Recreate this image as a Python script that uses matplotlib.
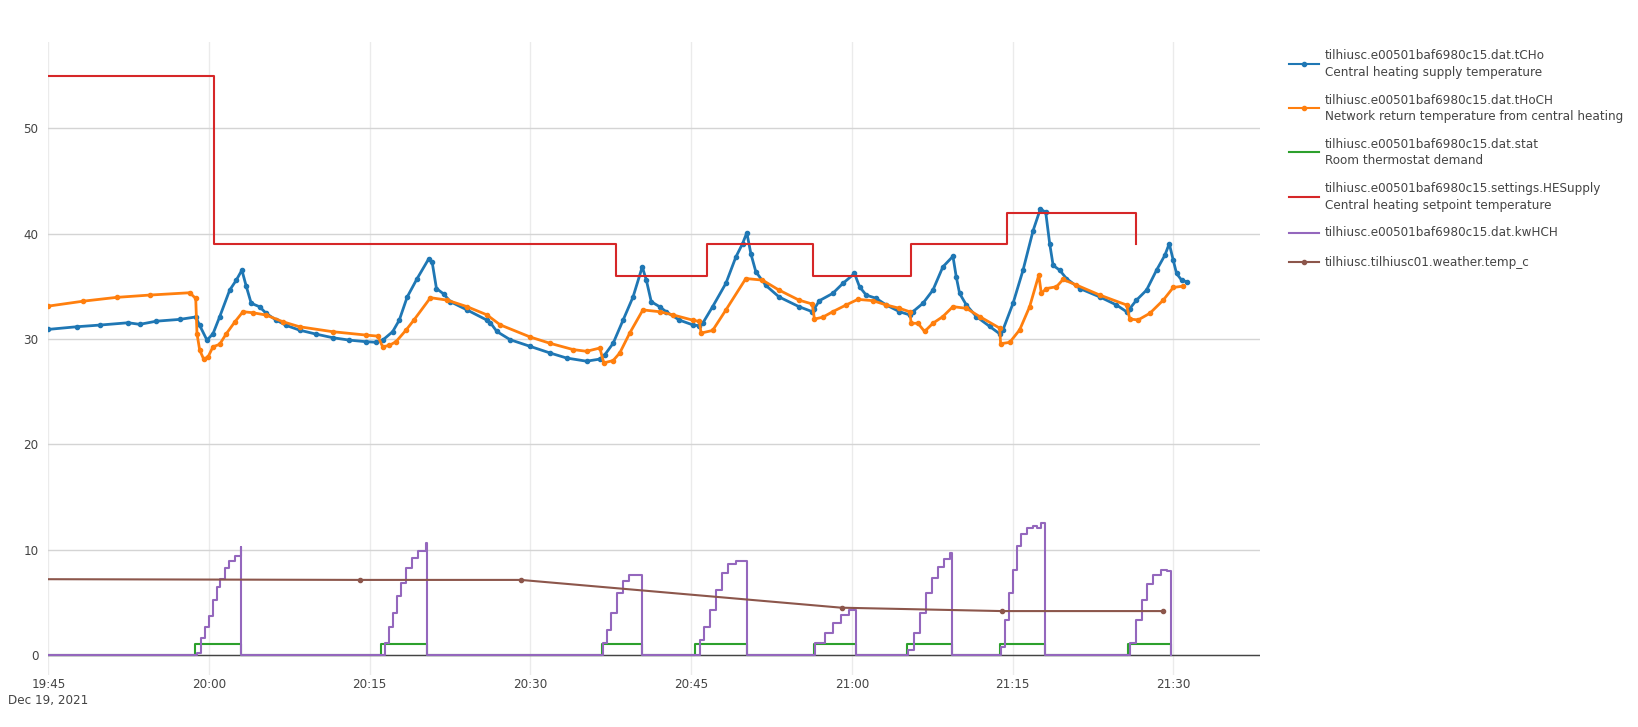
import numpy as np
import pandas as pd
import matplotlib
matplotlib.use("Agg")
import matplotlib.pyplot as plt
from matplotlib.lines import Line2D

plt.rcParams['font.family'] = ['DejaVu Sans']

# times are minutes after 19:45 on Dec 19, 2021
base = pd.Timestamp("2021-12-19 19:45:00")

# tCHo - central heating supply temperature
tcho_min = [0, 2.64, 4.81, 7.45, 8.54, 10.09, 12.27, 13.76, 14.13, 14.81, 15.37, 15.99,
            16.93, 17.55, 18.07, 18.48, 18.94, 19.72, 20.34, 21.27, 22.2, 23.45, 25.0,
            26.55, 28.11, 29.66, 30.59, 31.21, 32.14, 32.76, 33.5, 34.43, 35.52, 35.83,
            36.23, 36.91, 37.53, 39.08, 40.94, 41.25, 41.87, 43.11, 45.0, 46.83, 48.38,
            50.24, 51.48, 51.94, 52.72, 53.65, 54.58, 55.44, 55.82, 56.28, 57.05, 57.67,
            58.91, 60.15, 60.77, 61.08, 62.01, 63.25, 64.18, 64.8, 65.2, 65.58, 66.04,
            66.97, 68.21, 70.07, 71.31, 71.51, 71.98, 73.22, 74.16, 75.25, 75.72, 76.34,
            77.27, 78.21, 79.45, 80.39, 80.7, 81.64, 82.57, 83.5, 84.44, 84.75, 85.06,
            85.69, 86.62, 87.87, 88.8, 89.11, 90.05, 90.98, 91.92, 92.6, 93.1, 93.47,
            93.79, 94.41, 95.03, 96.28, 98.15, 99.7, 100.64, 100.95, 101.57, 102.51,
            103.44, 104.22, 104.63, 105.0, 105.31, 105.78, 106.25]
tcho_val = [30.92, 31.17, 31.33, 31.55, 31.4, 31.7, 31.87, 32.1, 31.3, 29.9, 30.5, 32.1,
            34.65, 35.6, 36.55, 35.0, 33.4, 33.07, 32.44, 31.8, 31.3, 30.85, 30.47,
            30.13, 29.9, 29.75, 29.7, 29.9, 30.7, 31.8, 34.0, 35.75, 37.64, 37.3,
            34.8, 34.28, 33.55, 32.77, 31.8, 31.57, 30.72, 29.94, 29.3, 28.68, 28.2,
            27.9, 28.1, 28.5, 29.6, 31.8, 34.0, 36.86, 35.6, 33.55, 33.08, 32.6,
            31.8, 31.35, 31.26, 31.5, 33.08, 35.3, 37.8, 39.06, 40.1, 38.1, 36.4,
            35.1, 34.0, 33.08, 32.6, 32.9, 33.65, 34.34, 35.28, 36.23, 34.97, 34.18,
            33.87, 33.24, 32.6, 32.3, 32.6, 33.4, 34.65, 36.86, 37.86, 35.9, 34.34,
            33.24, 32.14, 31.2, 30.5, 30.88, 33.4, 36.54, 40.3, 42.36, 42.04, 39.06,
            37.0, 36.54, 35.75, 34.8, 34.0, 33.24, 32.6, 32.9, 33.7, 34.65,
            36.54, 37.96, 39.06, 37.5, 36.23, 35.6, 35.44]

# tHoCH - network return temperature
thoch_min = [0, 3.26, 6.37, 9.47, 13.2, 13.76, 13.88, 14.13, 14.5, 14.91, 15.37, 15.99,
             16.61, 17.39, 18.17, 19.1, 20.34, 21.89, 23.45, 26.55, 29.66, 30.75, 31.21,
             31.83, 32.45, 33.39, 34.12, 35.67, 37.22, 39.08, 40.94, 42.18, 45.0, 46.83,
             49.0, 50.24, 51.48, 51.85, 52.72, 53.34, 54.27, 55.5, 57.05, 58.29, 60.15,
             60.77, 60.93, 62.01, 63.25, 65.11, 66.66, 68.21, 70.07, 71.31, 71.51, 72.29,
             73.22, 74.47, 75.56, 76.96, 78.21, 79.45, 80.39, 80.55, 81.17, 81.79, 82.57,
             83.5, 84.44, 85.69, 86.93, 88.8, 88.89, 89.74, 90.67, 91.6, 92.45, 92.69,
             93.16, 94.1, 94.72, 95.97, 98.15, 100.64, 100.95, 101.73, 102.82, 104.07,
             105.0, 105.93]
thoch_val = [33.13, 33.6, 33.96, 34.18, 34.4, 33.86, 30.5, 28.96, 28.1, 28.3, 29.27, 29.5,
             30.5, 31.6, 32.6, 32.5, 32.28, 31.65, 31.17, 30.7, 30.38, 30.28, 29.27,
             29.4, 29.75, 30.85, 31.8, 33.93, 33.7, 33.08, 32.3, 31.35, 30.19, 29.6,
             29.0, 28.84, 29.15, 27.74, 27.96, 28.68, 30.57, 32.77, 32.6, 32.3, 31.8,
             31.67, 30.57, 30.82, 32.77, 35.75, 35.6, 34.65, 33.7, 33.33, 31.9, 32.08,
             32.6, 33.24, 33.77, 33.65, 33.24, 32.92, 32.6, 31.5, 31.5, 30.72, 31.5,
             32.14, 33.08, 32.92, 32.14, 31.04, 29.56, 29.69, 30.88, 33.08, 36.07, 34.34,
             34.8, 34.97, 35.66, 35.13, 34.18, 33.24, 31.9, 31.82, 32.45, 33.7,
             34.9, 35.03]

# stat - room thermostat demand (step)
stat_min = [0, 13.71, 18.02, 31.07, 35.35, 51.67, 55.38, 60.4, 65.25, 71.49, 75.37,
            80.13, 84.38, 88.85, 93.06, 100.82, 104.8]
stat_val = [0, 1, 0, 1, 0, 1, 0, 1, 0, 1, 0, 1, 0, 1, 0, 1, 0]

# HESupply - setpoint (step)
setp_min = [0, 15.47, 53.03, 61.45, 71.4, 80.48, 89.5, 101.5]
setp_val = [55, 39, 36, 39, 36, 39, 42, 39]

# kwHCH (step)
kw_min = [0, 13.71, 13.89, 14.26, 14.63, 15.0, 15.37, 15.74, 16.03, 16.47, 16.84, 17.4, 17.95, 18.02,
          31.07, 31.4, 31.77, 32.14, 32.51, 32.88, 33.43, 33.98, 34.54, 35.27, 35.35,
          51.67, 51.8, 52.17, 52.54, 53.09, 53.65, 54.2, 54.75, 55.38,
          60.41, 60.85, 61.22, 61.77, 62.33, 62.88, 63.44, 64.17, 65.25,
          71.49, 71.56, 72.49, 73.22, 73.96, 74.7, 75.26, 75.37,
          80.13, 80.24, 80.8, 81.35, 81.91, 82.46, 83.01, 83.57, 84.12, 84.38,
          88.85, 88.93, 89.29, 89.66, 90.03, 90.4, 90.77, 91.33, 91.88, 92.25, 92.62, 93.06,
          100.82, 100.93, 101.48, 102.04, 102.59, 103.15, 103.89, 104.44, 104.8]
kw_val = [0, 0, 0.15, 1.6, 2.7, 3.66, 5.25, 6.5, 7.17, 8.28, 8.9, 9.4, 10.25, 0,
          0, 1.1, 2.7, 4.0, 5.57, 6.85, 8.28, 9.24, 9.87, 10.67, 0,
          0, 1.1, 2.4, 4.0, 5.9, 7.0, 7.55, 7.64, 0,
          0, 1.43, 2.7, 4.3, 6.2, 7.8, 8.6, 8.95, 0,
          0, 1.1, 2.07, 3.0, 3.8, 4.24, 4.3, 0,
          0, 0.5, 2.07, 4.0, 5.9, 7.32, 8.37, 9.08, 9.71, 0,
          0, 0.8, 3.34, 5.9, 8.1, 10.35, 11.46, 12.1, 12.26, 12.1, 12.58, 0,
          0, 1.1, 3.34, 5.25, 6.7, 7.64, 8.06, 7.96, 0]

# weather temp_c
wt_min = [-1, 29.07, 44.1, 74.04, 89.0, 104.0]
wt_val = [7.2, 7.13, 7.13, 4.49, 4.17, 4.17]


def tt(mins):
    return base + pd.to_timedelta(np.array(mins, dtype=float), unit="min")


W, H = 1638, 727
fig = plt.figure(figsize=(W / 100, H / 100), dpi=100)
left, right, top, bottom = 48.3, 1260, 41.7, 675
ax = fig.add_axes([left / W, 1 - bottom / H, (right - left) / W, (bottom - top) / H])

lw = 1.5
ms = 3.0
ax.plot(tt(tcho_min), tcho_val, color="#1f77b4", lw=2.0, marker="o", ms=ms, zorder=3)
ax.plot(tt(thoch_min), thoch_val, color="#ff7f0e", lw=2.0, marker="o", ms=ms, zorder=3)
ax.plot(tt(stat_min), stat_val, color="#2ca02c", lw=lw, drawstyle="steps-post", zorder=3)
ax.plot(tt(setp_min), setp_val, color="#d62728", lw=lw, drawstyle="steps-post", zorder=3)
ax.plot(tt(kw_min), kw_val, color="#9467bd", lw=lw, drawstyle="steps-post", zorder=3)
ax.plot(tt(wt_min), wt_val, color="#8c564b", lw=lw, marker="o", ms=ms, zorder=3)

ax.set_xlim(base, base + pd.Timedelta(minutes=113.1))
ax.set_ylim(-1.9, 58.24)

for s in ax.spines.values():
    s.set_visible(False)

xt = tt([0, 15, 30, 45, 60, 75, 90, 105])
ax.set_xticks(xt)
xlabels = [t.strftime("%H:%M") for t in xt]
xlabels[0] = "19:45\nDec 19, 2021"
ax.set_xticklabels(xlabels)
ax.set_yticks([0, 10, 20, 30, 40, 50])
ax.tick_params(axis="both", length=0, labelsize=8.64, labelcolor="#444444")
ax.tick_params(axis="x", pad=2)
ax.tick_params(axis="y", pad=7)
for lab in ax.get_xticklabels():
    lab.set_linespacing(1.35)

ax.grid(axis="x", color="#ebebeb", lw=1)
ax.grid(axis="y", color="#d4d4d4", lw=1)
ax.set_axisbelow(True)
ax.axhline(0, color="#444444", lw=1, zorder=2)

# legend drawn by hand on the right
names = [
    ("tilhiusc.e00501baf6980c15.dat.tCHo", "Central heating supply temperature", "#1f77b4", True, 63.7),
    ("tilhiusc.e00501baf6980c15.dat.tHoCH", "Network return temperature from central heating", "#ff7f0e", True, 108.3),
    ("tilhiusc.e00501baf6980c15.dat.stat", "Room thermostat demand", "#2ca02c", False, 152.3),
    ("tilhiusc.e00501baf6980c15.settings.HESupply", "Central heating setpoint temperature", "#d62728", False, 196.5),
    ("tilhiusc.e00501baf6980c15.dat.kwHCH", None, "#9467bd", False, 232.7),
    ("tilhiusc.tilhiusc01.weather.temp_c", None, "#8c564b", True, 262.3),
]
for n1, n2, col, mk, yc in names:
    fy = 1 - yc / H
    fig.add_artist(Line2D([1289 / W, 1319 / W], [fy, fy], color=col, lw=lw,
                          transform=fig.transFigure))
    if mk:
        fig.add_artist(Line2D([1304 / W], [fy], color=col, marker="o", ms=ms,
                              transform=fig.transFigure))
    if n2 is None:
        fig.text(1325 / W, fy, n1, fontsize=8.64, color="#444444", va="center")
    else:
        fig.text(1325 / W, 1 - (yc - 8) / H, n1, fontsize=8.64, color="#444444", va="center")
        fig.text(1325 / W, 1 - (yc + 8.5) / H, n2, fontsize=8.64, color="#444444", va="center")

fig.savefig("out.png", dpi=100, facecolor="white")
